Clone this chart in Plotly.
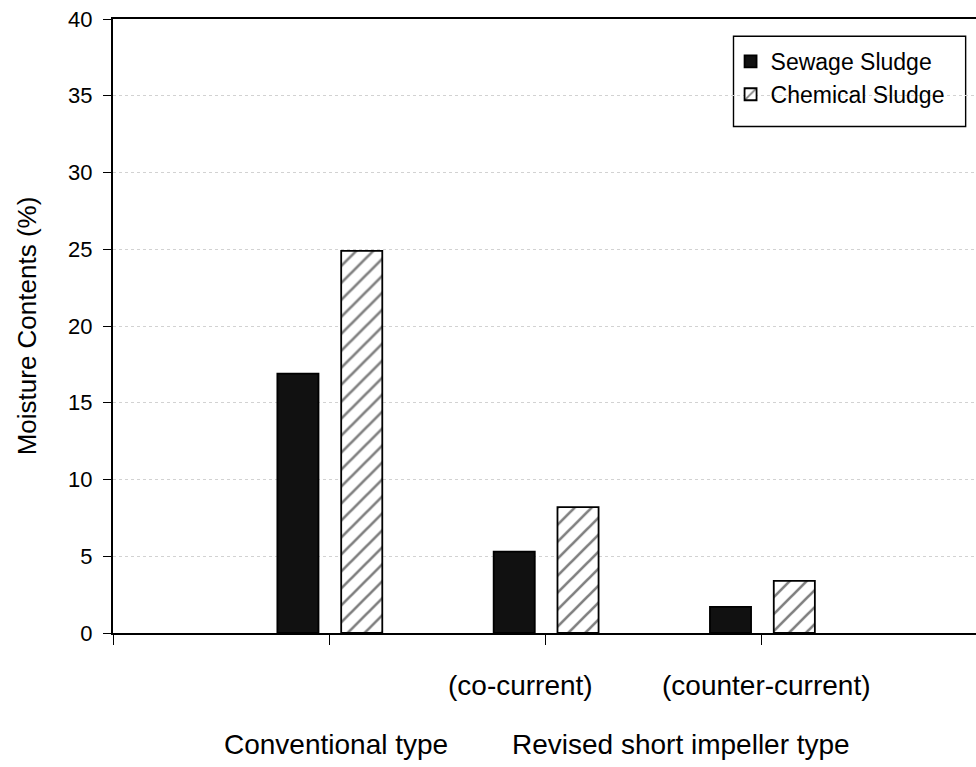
import plotly.graph_objects as go

# Moisture content of dried sludge by dryer type
positions = [1, 2, 3]
sewage_sludge = [16.9, 5.3, 1.7]
chemical_sludge = [24.9, 8.2, 3.4]
y_ticks = [0, 5, 10, 15, 20, 25, 30, 35, 40]
sub_labels = ["(co-current)", "(counter-current)"]
group_labels = ["Conventional type", "Revised short impeller type"]

FONT = "Liberation Sans, Arial, Helvetica, sans-serif"
BAR_W = 0.19

fig = go.Figure()
fig.add_trace(go.Bar(
    x=positions, y=sewage_sludge, name="Sewage Sludge",
    width=BAR_W, offset=-0.24,
    marker=dict(color="#111111", line=dict(color="black", width=1.8)),
))
fig.add_trace(go.Bar(
    x=positions, y=chemical_sludge, name="Chemical Sludge",
    width=BAR_W, offset=0.055,
    marker=dict(color="white", line=dict(color="black", width=1.8),
                pattern=dict(shape="/", fgcolor="black", bgcolor="white",
                             size=12, solidity=0.22)),
))

# Labels under the category axis
sub_x = [1.882, 3.021]
for txt, xv in zip(sub_labels, sub_x):
    fig.add_annotation(x=xv, xref="x", y=-0.085, yref="paper", text=txt,
                       showarrow=False, font=dict(family=FONT, size=28, color="black"),
                       xanchor="center", yanchor="middle")
group_x = [0.258, 0.658]
for txt, xv in zip(group_labels, group_x):
    fig.add_annotation(x=xv, xref="paper", y=-0.181, yref="paper", text=txt,
                       showarrow=False, font=dict(family=FONT, size=28, color="black"),
                       xanchor="center", yanchor="middle")

# Legend frame
fig.add_shape(type="rect", xref="paper", yref="paper",
              x0=0.719, x1=0.988, y0=0.825, y1=0.972,
              line=dict(color="black", width=1.4), fillcolor="white", layer="below")

fig.update_layout(
    width=976, height=767,
    margin=dict(l=113, r=0, t=19, b=134),
    paper_bgcolor="white", plot_bgcolor="rgba(0,0,0,0)",
    barmode="overlay",
    font=dict(family=FONT, color="black"),
    showlegend=True,
    legend=dict(x=0.7156, y=0.966, xanchor="left", yanchor="top",
                bgcolor="rgba(0,0,0,0)", borderwidth=0,
                font=dict(family=FONT, size=23, color="black"),
                tracegroupgap=0, itemwidth=30),
    xaxis=dict(range=[0, 3.99], tickvals=[0, 1, 2, 3], ticktext=["", "", "", ""],
               ticks="outside", ticklen=10, tickcolor="black", tickwidth=1.4,
               showline=True, linecolor="black", linewidth=2, mirror=True,
               showgrid=False, zeroline=False),
    yaxis=dict(range=[0, 40], tickvals=y_ticks, ticks="outside", ticklen=8,
               tickcolor="black", tickwidth=1.4,
               showline=True, linecolor="black", linewidth=2,
               showgrid=True, gridcolor="#d2d2d2", gridwidth=1, griddash="dot",
               zeroline=False, ticklabelstandoff=6,
               tickfont=dict(family=FONT, size=22, color="black"),
               title=dict(text="Moisture Contents (%)", standoff=24,
                          font=dict(family=FONT, size=26, color="black"))),
)

fig.write_html("out.html")
